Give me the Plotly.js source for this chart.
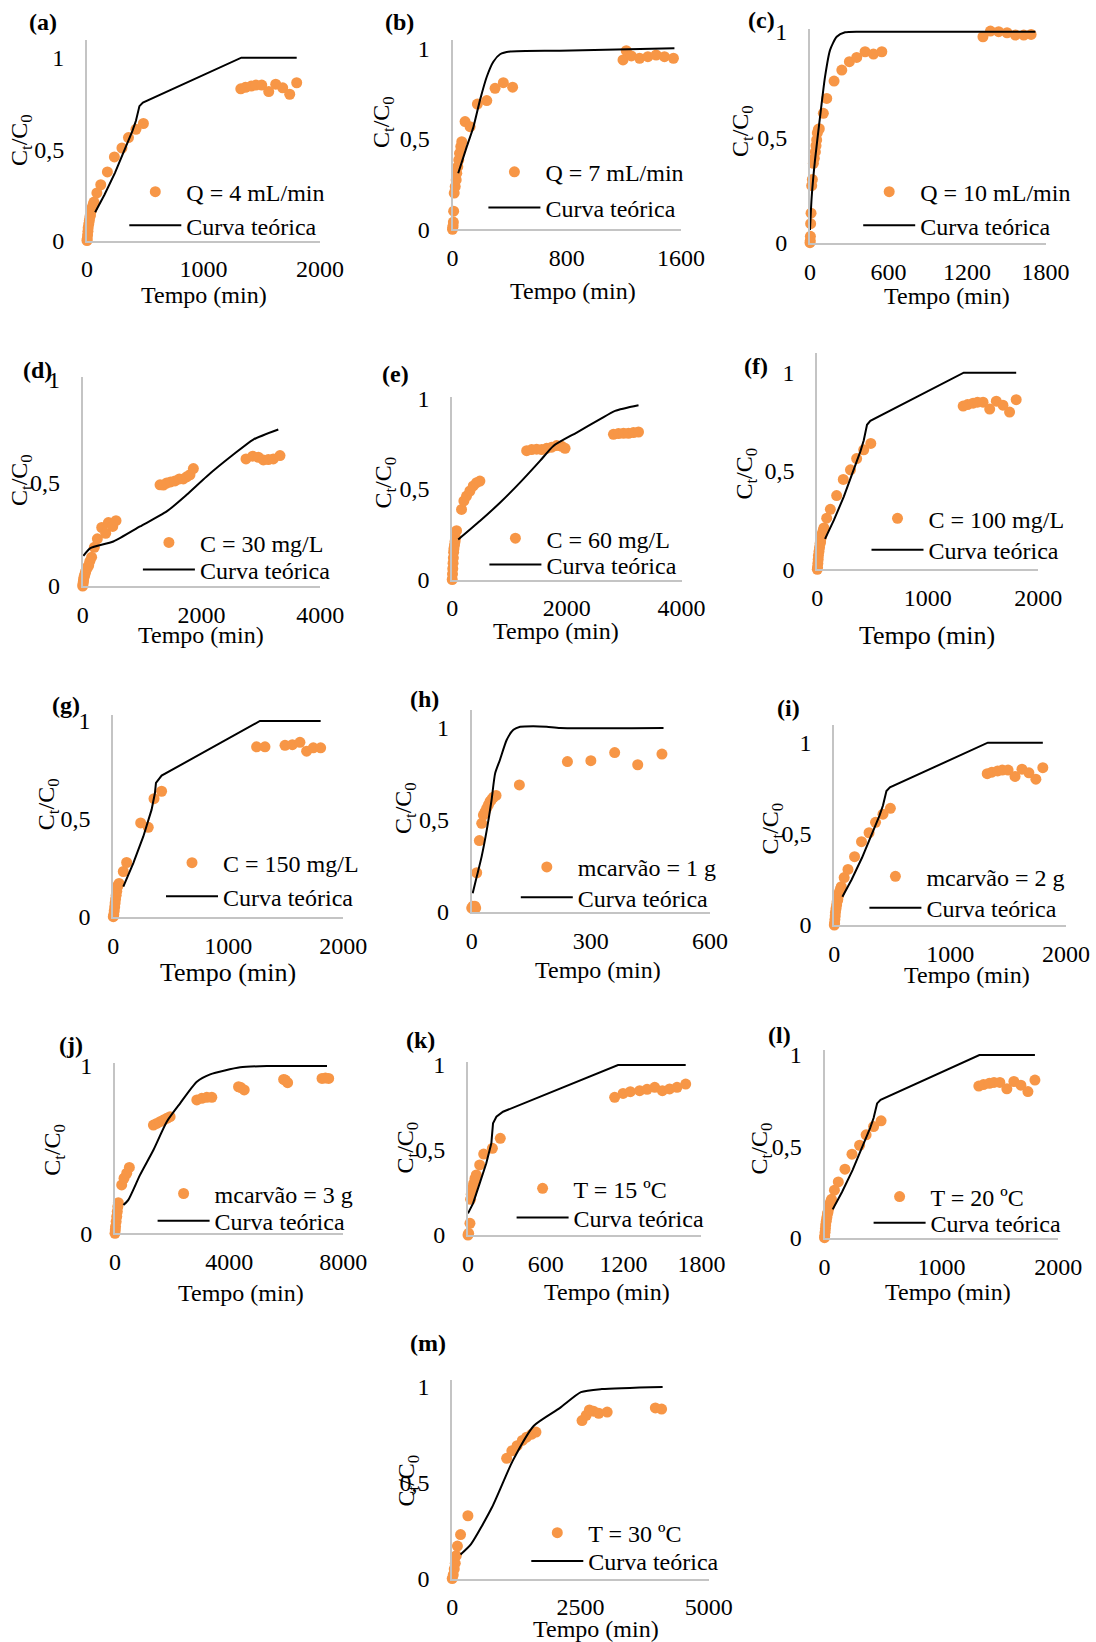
<!DOCTYPE html>
<html><head><meta charset="utf-8">
<script src="https://cdn.plot.ly/plotly-3.0.1.min.js"></script>
<style>body{margin:0;background:#fff} #chart{width:1096px;height:1642px}</style>
</head><body><div id="chart"></div>
<script>
// ---------- DATA ----------
// Base condition (Q = 4 mL/min, C = 100 mg/L, m = 2 g, T = 20 ºC) used in panels a, f, i, l
const t_base = [0, 2, 5, 8, 10, 15, 20, 25, 30, 35, 40, 45, 50, 55, 60, 85, 118, 175, 235, 300, 356, 420, 484, 1320, 1360, 1410, 1450, 1500, 1560, 1620, 1680, 1740, 1800];
const c_base = [0, 0.01, 0.03, 0.05, 0.07, 0.09, 0.11, 0.13, 0.14, 0.16, 0.17, 0.18, 0.19, 0.2, 0.21, 0.26, 0.305, 0.375, 0.457, 0.506, 0.563, 0.608, 0.64, 0.83, 0.838, 0.845, 0.85, 0.85, 0.815, 0.855, 0.835, 0.80, 0.863];
const t_base_teo = [70, 150, 240, 320, 390, 420, 435, 450, 480, 1325, 1800];
const c_base_teo = [0.155, 0.25, 0.37, 0.49, 0.6, 0.655, 0.7, 0.735, 0.755, 1.0, 1.0];

// (b) Q = 7 mL/min
const t_b = [0, 2, 4, 6, 8, 12, 19, 26, 30, 37, 44, 49, 58, 65, 88, 123, 174, 240, 298, 356, 421, 1194, 1217, 1252, 1310, 1368, 1426, 1484, 1547];
const c_b = [0, 0.01, 0.02, 0.04, 0.1, 0.2, 0.236, 0.273, 0.309, 0.346, 0.383, 0.42, 0.457, 0.484, 0.595, 0.567, 0.692, 0.711, 0.779, 0.81, 0.785, 0.936, 0.987, 0.958, 0.945, 0.954, 0.963, 0.954, 0.945];
const t_b_teo = [40, 100, 147, 193, 240, 286, 333, 403, 751, 1554];
const c_b_teo = [0.31, 0.457, 0.567, 0.715, 0.843, 0.926, 0.967, 0.982, 0.987, 1.0];

// (c) Q = 10 mL/min
const t_c = [0, 2, 3, 5, 8, 13, 18, 26, 33, 41, 46, 51, 56, 64, 71, 102, 128, 184, 243, 301, 357, 421, 485, 549, 1322, 1379, 1442, 1506, 1570, 1634, 1690];
const c_c = [0, 0.01, 0.03, 0.09, 0.14, 0.27, 0.3, 0.376, 0.4, 0.43, 0.46, 0.487, 0.52, 0.537, 0.54, 0.613, 0.684, 0.766, 0.818, 0.858, 0.878, 0.905, 0.894, 0.905, 0.976, 1.003, 1.0, 0.995, 0.984, 0.984, 0.987];
const t_c_teo = [0, 13, 38, 77, 115, 153, 204, 268, 383, 1723];
const c_c_teo = [0.06, 0.218, 0.39, 0.597, 0.787, 0.913, 0.976, 0.997, 1.0, 1.0];

// (d) C = 30 mg/L
const t_d = [0, 5, 10, 15, 20, 30, 40, 50, 60, 80, 100, 120, 150, 196, 247, 320, 387, 432, 505, 561, 1302, 1358, 1414, 1481, 1554, 1627, 1694, 1750, 1806, 1863, 2749, 2861, 2957, 3041, 3125, 3209, 3321];
const c_d = [0, 0.01, 0.02, 0.03, 0.04, 0.05, 0.06, 0.07, 0.08, 0.09, 0.1, 0.12, 0.14, 0.188, 0.229, 0.284, 0.256, 0.308, 0.289, 0.317, 0.491, 0.49, 0.5, 0.505, 0.51, 0.52, 0.52, 0.53, 0.54, 0.57, 0.617, 0.63, 0.625, 0.612, 0.614, 0.617, 0.633];
const t_d_teo = [11, 123, 516, 965, 1414, 1750, 2087, 2536, 2872, 3293];
const c_d_teo = [0.146, 0.183, 0.216, 0.289, 0.362, 0.443, 0.532, 0.638, 0.711, 0.76];

// (e) C = 60 mg/L
const t_e = [0, 5, 10, 15, 20, 25, 30, 40, 50, 60, 76, 163, 204, 250, 309, 367, 425, 483, 1299, 1386, 1473, 1561, 1648, 1736, 1823, 1910, 1969, 2813, 2900, 2988, 3075, 3162, 3250];
const c_e = [0, 0.03, 0.06, 0.09, 0.12, 0.15, 0.17, 0.19, 0.21, 0.23, 0.27, 0.387, 0.434, 0.461, 0.489, 0.517, 0.535, 0.544, 0.712, 0.718, 0.72, 0.718, 0.725, 0.731, 0.74, 0.736, 0.725, 0.802, 0.806, 0.808, 0.808, 0.812, 0.815];
const t_e_teo = [105, 483, 833, 1182, 1532, 1765, 2172, 2580, 2842, 3250];
const c_e_teo = [0.221, 0.323, 0.424, 0.535, 0.655, 0.738, 0.812, 0.886, 0.932, 0.963];

// (g) C = 150 mg/L
const t_g = [0, 4, 8, 12, 16, 20, 25, 30, 35, 40, 50, 87, 116, 238, 304, 354, 420, 1246, 1319, 1493, 1557, 1623, 1681, 1739, 1803];
const c_g = [0, 0.01, 0.03, 0.05, 0.07, 0.09, 0.11, 0.13, 0.15, 0.16, 0.17, 0.231, 0.277, 0.479, 0.457, 0.603, 0.641, 0.868, 0.868, 0.876, 0.879, 0.891, 0.846, 0.863, 0.863];
const t_g_teo = [87, 174, 261, 333, 362, 371, 420, 1275, 1803];
const c_g_teo = [0.154, 0.274, 0.41, 0.547, 0.632, 0.684, 0.721, 1.0, 1.0];

// (h) mcarvão = 1 g
const t_h = [0, 3, 5, 8, 10, 12.6, 19.3, 25.2, 29.4, 33.6, 37.8, 42, 46.2, 50.4, 54.6, 61.3, 120, 241, 300, 360, 418, 479];
const c_h = [0.02, 0.03, 0.02, 0.03, 0.02, 0.212, 0.387, 0.481, 0.526, 0.544, 0.563, 0.581, 0.6, 0.612, 0.623, 0.633, 0.69, 0.817, 0.822, 0.866, 0.8, 0.858];
const t_h_teo = [2.5, 12.6, 25, 38, 50, 59, 71, 88, 105, 122, 155, 189, 223, 483];
const c_h_teo = [0.1, 0.19, 0.3, 0.445, 0.608, 0.753, 0.826, 0.935, 0.99, 1.007, 1.01, 1.007, 1.0, 1.0];

// (j) mcarvão = 3 g
const t_j = [0, 10, 20, 40, 60, 80, 100, 117, 234, 316, 410, 503, 1346, 1463, 1580, 1697, 1814, 1931, 2867, 3042, 3218, 3393, 4329, 4411, 4528, 5909, 5967, 6049, 7254, 7371, 7488];
const c_j = [0, 0.02, 0.04, 0.07, 0.1, 0.13, 0.16, 0.183, 0.289, 0.329, 0.359, 0.394, 0.647, 0.657, 0.667, 0.677, 0.687, 0.697, 0.797, 0.807, 0.813, 0.813, 0.876, 0.871, 0.857, 0.92, 0.916, 0.9, 0.926, 0.928, 0.926];
const t_j_teo = [293, 468, 878, 1346, 1814, 2282, 2867, 3335, 4388, 5324, 7430];
const c_j_teo = [0.169, 0.2, 0.349, 0.498, 0.667, 0.777, 0.906, 0.95, 0.992, 1.0, 1.0];

// (k) T = 15 ºC
const t_k = [0, 5, 15, 20, 25, 33, 44, 54, 64, 90, 121, 188, 249, 1131, 1196, 1252, 1324, 1381, 1440, 1499, 1555, 1612, 1679];
const c_k = [0, 0.01, 0.069, 0.21, 0.24, 0.275, 0.304, 0.333, 0.353, 0.412, 0.476, 0.51, 0.569, 0.81, 0.833, 0.843, 0.849, 0.857, 0.869, 0.849, 0.859, 0.869, 0.888];
const t_k_teo = [0, 39, 90, 141, 180, 193, 219, 270, 1157, 1679];
const c_k_teo = [0.127, 0.186, 0.304, 0.422, 0.539, 0.657, 0.696, 0.725, 1.0, 1.0];

// (m) T = 30 ºC
const t_m = [0, 20, 40, 60, 80, 102, 163, 306, 1061, 1163, 1265, 1367, 1449, 1551, 1633, 2531, 2612, 2674, 2755, 2857, 3021, 3960, 4082];
const c_m = [0, 0.02, 0.05, 0.08, 0.12, 0.17, 0.23, 0.328, 0.628, 0.667, 0.694, 0.721, 0.738, 0.754, 0.765, 0.825, 0.852, 0.88, 0.874, 0.863, 0.869, 0.891, 0.885];
const t_m_teo = [163, 367, 776, 1184, 1592, 2102, 2510, 2918, 4102];
const c_m_teo = [0.126, 0.18, 0.372, 0.617, 0.798, 0.891, 0.973, 0.989, 1.0];

const panel_letters = ['(a)','(b)','(c)','(d)','(e)','(f)','(g)','(h)','(i)','(j)','(k)','(l)','(m)'];
const series_names = ['Q = 4 mL/min','Q = 7 mL/min','Q = 10 mL/min','C = 30 mg/L','C = 60 mg/L','C = 100 mg/L','C = 150 mg/L','mcarvão = 1 g','mcarvão = 2 g','mcarvão = 3 g','T = 15 ºC','T = 20 ºC','T = 30 ºC'];
const theory_name = 'Curva teórica';
const x_title = 'Tempo (min)';
const y_title = 'C<sub>t</sub>/C<sub>0</sub>';
const x_ticks = [[0,1000,2000],[0,800,1600],[0,600,1200,1800],[0,2000,4000],[0,2000,4000],[0,1000,2000],[0,1000,2000],[0,300,600],[0,1000,2000],[0,4000,8000],[0,600,1200,1800],[0,1000,2000],[0,2500,5000]];
const y_ticks_full = [0, 0.5, 1];
const y_ticks_j = [0, 1];

const exp_t = [t_base, t_b, t_c, t_d, t_e, t_base, t_g, t_h, t_base, t_j, t_k, t_base, t_m];
const exp_c = [c_base, c_b, c_c, c_d, c_e, c_base, c_g, c_h, c_base, c_j, c_k, c_base, c_m];
const teo_t = [t_base_teo, t_b_teo, t_c_teo, t_d_teo, t_e_teo, t_base_teo, t_g_teo, t_h_teo, t_base_teo, t_j_teo, t_k_teo, t_base_teo, t_m_teo];
const teo_c = [c_base_teo, c_b_teo, c_c_teo, c_d_teo, c_e_teo, c_base_teo, c_g_teo, c_h_teo, c_base_teo, c_j_teo, c_k_teo, c_base_teo, c_m_teo];

// ---------- LAYOUT (pixel geometry) ----------
const W = 1096, H = 1642;
const FONT = 'Liberation Serif, Times New Roman, serif';
const FS = 24;
const ORANGE = '#F79646';
// [left, right, bottom(y=0), top, y-pixel of value 1]
const boxes = [
  [87, 320, 240.5, 40, 57.7],
  [452.5, 681, 229.3, 40, 48.3],
  [810, 1045.5, 242.7, 28.5, 31.7],
  [82.7, 320.3, 586, 377, 380],
  [452.2, 681.5, 579.5, 396.5, 398.5],
  [817.3, 1038.3, 569.3, 353.3, 372.7],
  [113.3, 343.3, 916.7, 715, 721],
  [471.7, 710, 911.7, 710, 728],
  [834.3, 1066, 925, 725, 742.7],
  [115, 343.3, 1233.3, 1063.3, 1066],
  [468, 701.4, 1235, 1061.7, 1065],
  [824.5, 1058.3, 1237.7, 1050, 1055],
  [452.2, 708.7, 1578.6, 1379.7, 1387]
];
const lineShapes = ['linear','spline','spline','spline','spline','linear','linear','spline','linear','spline','linear','linear','spline'];
// legend: [text start x, marker row center y, line row center y]
const legendPos = [
  [186.3,192.6,226.1],[545.4,172.7,208.3],[920.2,192.6,226.1],
  [199.9,543.3,570.5],[546.4,539.1,565.3],[928.5,519.2,550.6],
  [223,863.6,897.1],[577.8,867.8,898.2],[926.4,877.2,908.6],
  [214.6,1194.4,1221.6],[573.6,1189.2,1218.5],[930.6,1197.5,1223.7],
  [588.3,1533.6,1561.9]
];
const letterPos = [[42.9,22],[399.9,22],[761,20],[37.7,370],[395.7,373.7],[755.8,366.4],[66,704.5],[424,699.3],[788.2,707.7],[71.2,1044.7],[420.8,1039.5],[779.9,1035.3],[428.1,1343]];
const yTitlePos = [[21,140],[383,122],[742,131],[21,480],[385,482.6],[746.4,473.2],[48.2,804],[405,808],[771.5,829],[54.4,1149.4],[407.2,1147.3],[761,1148.4],[408.3,1480.2]];
const xTitlePos = [[204,295.2],[572.6,291],[947.4,296.2],[201,635.4],[555.9,631.2],[927.5,635.4],[228.2,972.5],[597.7,970.4],[967.2,974.6],[240.8,1292.8],[607.2,1291.8],[948.4,1291.8],[595.6,1628.8]];
const xTitleSize = [24,24,24,24,24,26,26,24,24,24,24,24,24];

const ITEMW = 52;      // legend symbol width
const ROW_OFF = 23;    // legend top -> item centre

const traces = [];
const layout = {
  width: W, height: H,
  margin: {l:0, r:0, t:0, b:0},
  paper_bgcolor: '#ffffff', plot_bgcolor: 'rgba(0,0,0,0)',
  separators: ',.',
  font: {family: FONT, size: FS, color: '#000'},
  showlegend: true,
  annotations: []
};
const fx = px => px / W;
const fy = py => 1 - py / H;
function legendObj(xLeft, yTop) {
  return {
    x: fx(xLeft), y: fy(yTop), xanchor: 'left', yanchor: 'top',
    xref: 'paper', yref: 'paper', itemwidth: ITEMW,
    bgcolor: 'rgba(0,0,0,0)', borderwidth: 0, font: {family: FONT, size: FS, color: '#000'},
    itemclick: false, itemdoubleclick: false
  };
}

for (let i = 0; i < 13; i++) {
  const n = i === 0 ? '' : String(i + 1);
  const legA = 'legend' + (i === 0 ? '' : String(2 * i + 1));
  const legB = 'legend' + String(2 * i + 2);
  const [L, R, B, T, Y1] = boxes[i];
  const ymax = (B - T) / (B - Y1);
  const xt = x_ticks[i];
  traces.push({
    type: 'scatter', mode: 'markers', name: series_names[i],
    x: exp_t[i], y: exp_c[i], xaxis: 'x' + n, yaxis: 'y' + n, legend: legA,
    marker: {color: ORANGE, size: 11}, cliponaxis: false, hoverinfo: 'skip'
  });
  traces.push({
    type: 'scatter', mode: 'lines', name: theory_name,
    x: teo_t[i], y: teo_c[i], xaxis: 'x' + n, yaxis: 'y' + n, legend: legB,
    line: {color: '#000', width: 2, shape: lineShapes[i], smoothing: 0.6}, cliponaxis: false, hoverinfo: 'skip'
  });
  const axCommon = {
    showgrid: false, zeroline: false, showline: true, linecolor: '#C4C4C4', linewidth: 2,
    ticks: 'outside', tickcolor: 'rgba(0,0,0,0)', tickfont: {family: FONT, size: FS, color: '#000'},
    fixedrange: true
  };
  layout['xaxis' + n] = Object.assign({}, axCommon, {
    domain: [fx(L), fx(R)], range: [0, xt[xt.length - 1]], tickvals: xt, ticklen: 6,
    anchor: 'y' + n
  });
  layout['yaxis' + n] = Object.assign({}, axCommon, {
    domain: [fy(B), fy(T)], range: [0, ymax], tickvals: (i === 9 ? y_ticks_j : y_ticks_full), ticklen: 16,
    anchor: 'x' + n
  });
  const [tx, r1, r2] = legendPos[i];
  const left = tx - ITEMW - 10;
  layout[legA] = legendObj(left, r1 - ROW_OFF);
  layout[legB] = legendObj(left, r2 - ROW_OFF);
  layout.annotations.push({
    text: '<b>' + panel_letters[i] + '</b>', x: fx(letterPos[i][0]), y: fy(letterPos[i][1]),
    xref: 'paper', yref: 'paper', xanchor: 'center', yanchor: 'middle', showarrow: false,
    font: {family: FONT, size: FS, color: '#000'}
  });
  layout.annotations.push({
    text: y_title, x: fx(yTitlePos[i][0]), y: fy(yTitlePos[i][1]), textangle: -90,
    xref: 'paper', yref: 'paper', xanchor: 'center', yanchor: 'middle', showarrow: false,
    font: {family: FONT, size: FS, color: '#000'}
  });
  layout.annotations.push({
    text: x_title, x: fx(xTitlePos[i][0]), y: fy(xTitlePos[i][1]),
    xref: 'paper', yref: 'paper', xanchor: 'center', yanchor: 'middle', showarrow: false,
    font: {family: FONT, size: xTitleSize[i], color: '#000'}
  });
}

Plotly.newPlot('chart', traces, layout, {displayModeBar: false, staticPlot: true});
</script>
</body></html>
